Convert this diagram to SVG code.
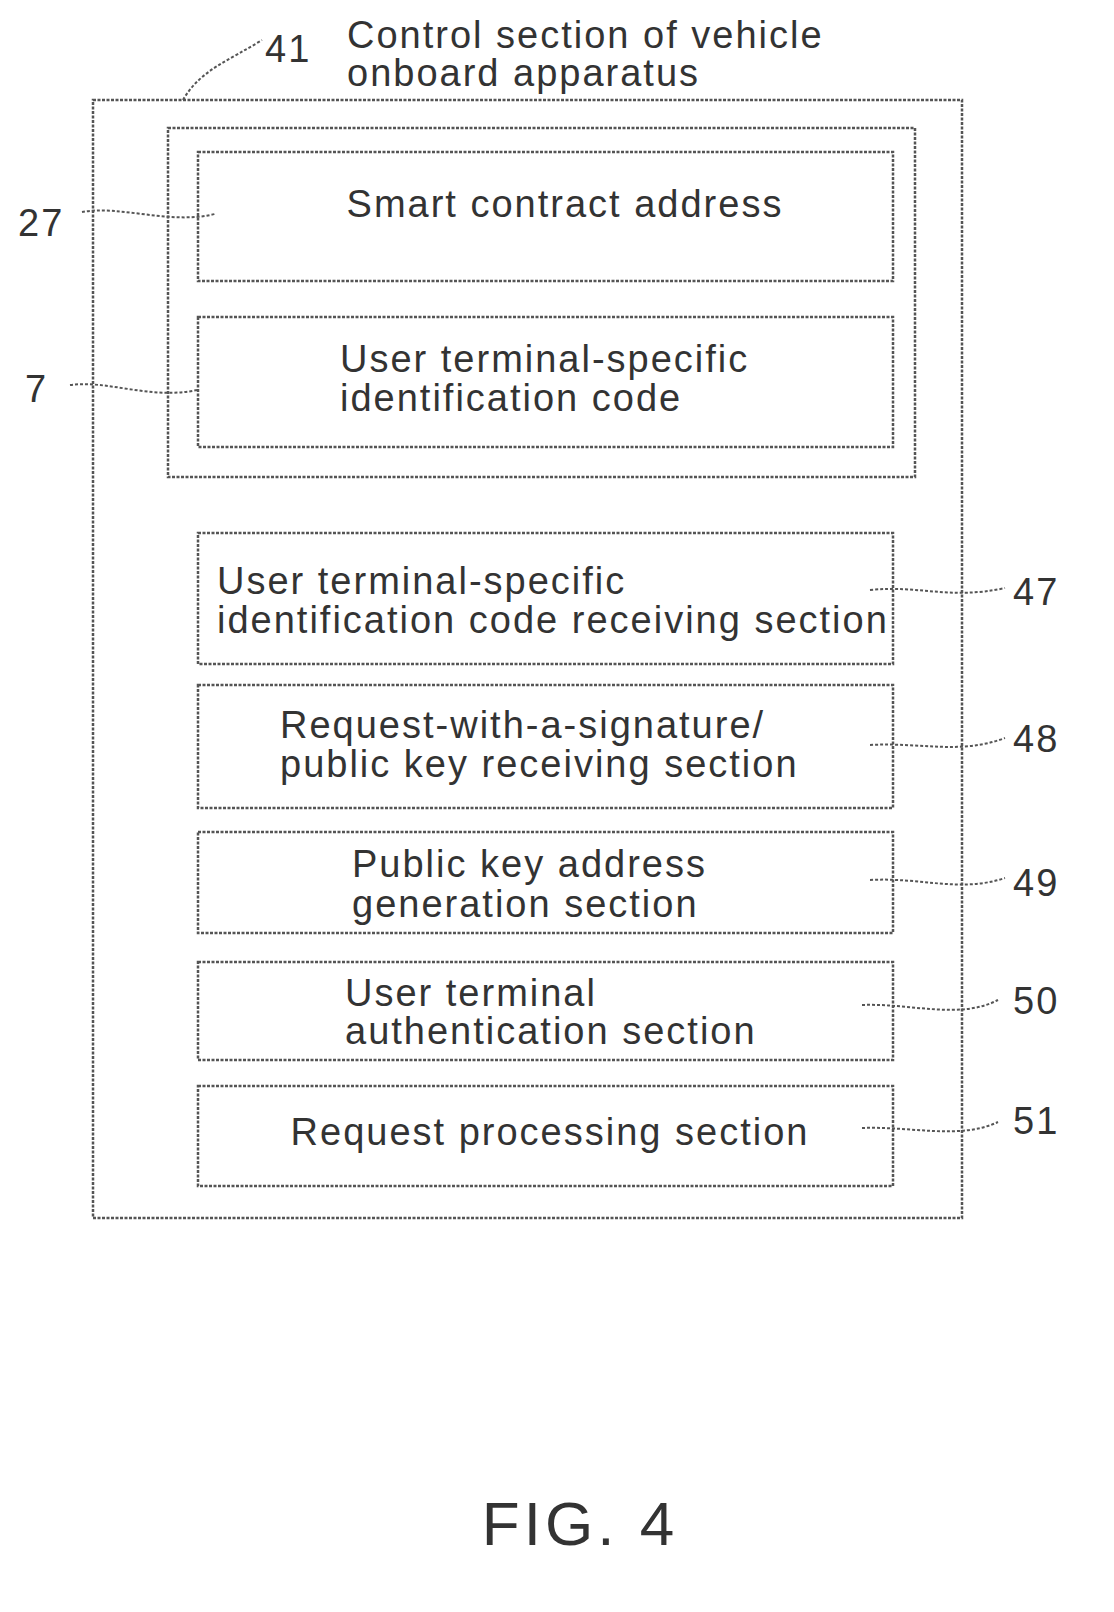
<svg xmlns="http://www.w3.org/2000/svg" width="1114" height="1612" viewBox="0 0 1114 1612">
<style>
.b{fill:none;stroke:#555;stroke-width:2.5;stroke-dasharray:3 1.5}
.l{fill:none;stroke:#555;stroke-width:2;stroke-dasharray:3 2}
text{font-family:"Liberation Sans",Arial,sans-serif;font-size:38px;letter-spacing:2px;fill:#333}
.c{text-anchor:middle}
</style>
<rect width="1114" height="1612" fill="#fff"/>
<g id="n41"><rect class="b" x="93" y="100" width="869" height="1118"/>
<text x="265" y="62">41</text><text x="347" y="48">Control section of vehicle</text><text x="347" y="86">onboard apparatus</text></g>
<g id="grp"><rect class="b" x="168" y="128" width="747" height="349"/></g>
<g id="n27"><rect class="b" x="198" y="152" width="695" height="129"/><text class="c" x="565" y="217">Smart contract address</text><text x="18" y="236">27</text></g>
<g id="n7"><rect class="b" x="198" y="317" width="695" height="130"/><text x="340" y="372">User terminal-specific</text><text x="340" y="411">identification code</text><text x="25" y="402">7</text></g>
<g id="n47"><rect class="b" x="198" y="533" width="695" height="131"/><text x="217" y="594">User terminal-specific</text><text x="217" y="633">identification code receiving section</text><text x="1013" y="605">47</text></g>
<g id="n48"><rect class="b" x="198" y="685" width="695" height="123"/><text x="280" y="738">Request-with-a-signature/</text><text x="280" y="777">public key receiving section</text><text x="1013" y="752">48</text></g>
<g id="n49"><rect class="b" x="198" y="832" width="695" height="101"/><text x="352" y="877">Public key address</text><text x="352" y="917">generation section</text><text x="1013" y="896">49</text></g>
<g id="n50"><rect class="b" x="198" y="962" width="695" height="98"/><text x="345" y="1006">User terminal</text><text x="345" y="1044">authentication section</text><text x="1013" y="1014">50</text></g>
<g id="n51"><rect class="b" x="198" y="1086" width="695" height="100"/><text class="c" x="550" y="1145">Request processing section</text><text x="1013" y="1134">51</text></g>
<g id="connectors">
<path class="l" d="M183,100 C200,70 230,60 262,40"/>
<path class="l" d="M82,212 C120,205 170,225 215,214"/>
<path class="l" d="M70,385 C110,380 150,400 197,390"/>
<path class="l" d="M870,590 C920,585 950,600 1005,588"/>
<path class="l" d="M870,745 C920,742 960,755 1005,738"/>
<path class="l" d="M870,880 C920,877 960,893 1005,878"/>
<path class="l" d="M862,1005 C910,1003 960,1020 998,1000"/>
<path class="l" d="M862,1128 C910,1126 960,1140 998,1122"/>
</g>
<text class="c" x="580" y="1545" style="font-size:62px;letter-spacing:4px">FIG. 4</text>
</svg>
